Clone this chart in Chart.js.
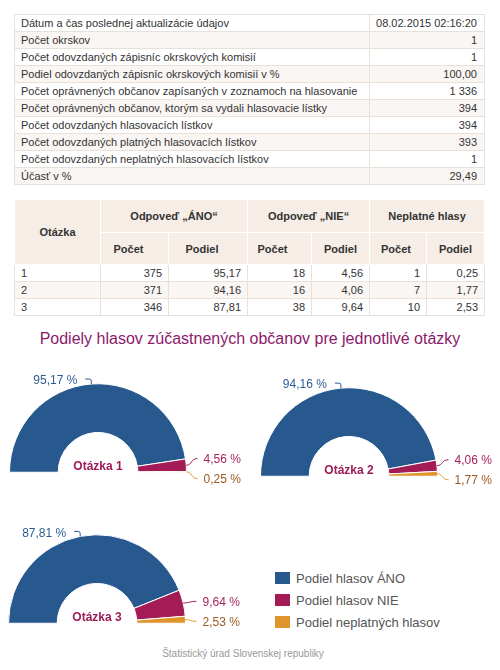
<!DOCTYPE html>
<html>
<head>
<meta charset="utf-8">
<script src="https://cdn.jsdelivr.net/npm/chart.js@4"></script>
<style>
  body { margin: 0; background: #fff; font-family: "Liberation Sans", Arial, sans-serif; color: #333; }
  .box { position: absolute; }
  table { border-collapse: collapse; font-size: 11px; table-layout: fixed; }
  #summary td { border: 1px solid #e8e1da; height: 16px; padding: 0 6px; line-height: 15px; }
  #summary td.val { text-align: right; padding-right: 7px; }
  #summary tr:nth-child(even) td { background: #faf6f3; }
  #results th { background: #f5ede6; border: 1px solid #fff; font-weight: bold; padding: 0; }
  #results td { border: 1px solid #e8e1da; height: 16px; padding: 0 6px; line-height: 15px; text-align: right; }
  #results td:first-child { text-align: left; }
  #results tbody tr:nth-child(even) td { background: #faf6f3; }
  #title { position: absolute; left: 0; width: 500px; top: 330px; text-align: center; font-size: 16px; color: #8b1a6b; }
  .legend { position: absolute; left: 275px; font-size: 13px; color: #555; line-height: 14px; }
  .legend span { display: inline-block; width: 15px; height: 12px; vertical-align: -1px; margin-right: 6px; }
  #footer { position: absolute; left: 0; width: 486px; top: 648px; text-align: center; font-size: 10px; color: #999; }
</style>
</head>
<body>
<table id="summary" class="box" style="left:14px; top:14px; width:470px;">
  <colgroup><col style="width:355px"><col style="width:115px"></colgroup>
  <tbody></tbody>
</table>

<table id="results" class="box" style="left:14px; top:199px; width:470px;">
  <colgroup>
    <col style="width:86px"><col style="width:68px"><col style="width:79px">
    <col style="width:64px"><col style="width:58px"><col style="width:57px"><col style="width:58px">
  </colgroup>
  <thead>
    <tr style="height:33px"><th rowspan="2">Otázka</th><th colspan="2">Odpoveď „ÁNO“</th><th colspan="2">Odpoveď „NIE“</th><th colspan="2">Neplatné hlasy</th></tr>
    <tr style="height:32px"><th style="padding-right:12px">Počet</th><th style="padding-right:12px">Podiel</th><th style="padding-right:14px">Počet</th><th>Podiel</th><th style="padding-right:4px">Počet</th><th>Podiel</th></tr>
  </thead>
  <tbody></tbody>
</table>

<div id="title">Podiely hlasov zúčastnených občanov pre jednotlivé otázky</div>

<div class="box" style="left:0; top:370px; width:250px; height:125px;"><canvas id="q1"></canvas></div>
<div class="box" style="left:250px; top:370px; width:250px; height:125px;"><canvas id="q2"></canvas></div>
<div class="box" style="left:0; top:515px; width:250px; height:125px;"><canvas id="q3"></canvas></div>

<div class="legend" style="top:572px"><span style="background:#27598f"></span>Podiel hlasov ÁNO</div>
<div class="legend" style="top:594px"><span style="background:#a41c55"></span>Podiel hlasov NIE</div>
<div class="legend" style="top:616px"><span style="background:#e0952c"></span>Podiel neplatných hlasov</div>

<div id="footer">Štatistický úrad Slovenskej republiky</div>

<script>
// summary table
const summaryLabels = [
  'Dátum a čas poslednej aktualizácie údajov',
  'Počet okrskov',
  'Počet odovzdaných zápisníc okrskových komisií',
  'Podiel odovzdaných zápisníc okrskových komisií v %',
  'Počet oprávnených občanov zapísaných v zoznamoch na hlasovanie',
  'Počet oprávnených občanov, ktorým sa vydali hlasovacie lístky',
  'Počet odovzdaných hlasovacích lístkov',
  'Počet odovzdaných platných hlasovacích lístkov',
  'Počet odovzdaných neplatných hlasovacích lístkov',
  'Účasť v %'
];
const summaryValues = ['08.02.2015 02:16:20', '1', '1', '100,00', '1 336', '394', '394', '393', '1', '29,49'];

// results per question
const otazky = ['Otázka 1', 'Otázka 2', 'Otázka 3'];
const pocetAno = [375, 371, 346];
const podielAno = [95.17, 94.16, 87.81];
const pocetNie = [18, 16, 38];
const podielNie = [4.56, 4.06, 9.64];
const pocetNeplatne = [1, 7, 10];
const podielNeplatne = [0.25, 1.77, 2.53];

const seriesNames = ['Podiel hlasov ÁNO', 'Podiel hlasov NIE', 'Podiel neplatných hlasov'];
const sliceColors = ['#27598f', '#a41c55', '#e0952c'];
const labelColors = ['#2d5d94', '#a8245f', '#9c5a20'];

const fmt = v => v.toFixed(2).replace('.', ',');

const sBody = document.querySelector('#summary tbody');
summaryLabels.forEach((lbl, i) => {
  const tr = document.createElement('tr');
  tr.innerHTML = '<td>' + lbl + '</td><td class="val">' + summaryValues[i] + '</td>';
  sBody.appendChild(tr);
});

const rBody = document.querySelector('#results tbody');
otazky.forEach((q, i) => {
  const tr = document.createElement('tr');
  tr.innerHTML = '<td>' + (i + 1) + '</td><td>' + pocetAno[i] + '</td><td>' + fmt(podielAno[i]) +
    '</td><td>' + pocetNie[i] + '</td><td>' + fmt(podielNie[i]) +
    '</td><td>' + pocetNeplatne[i] + '</td><td>' + fmt(podielNeplatne[i]) + '</td>';
  rBody.appendChild(tr);
});

// labels outside the slices + title in the hole
const pieLabels = {
  id: 'pieLabels',
  afterDatasetsDraw(chart) {
    const ctx = chart.ctx;
    const meta = chart.getDatasetMeta(0);
    const values = chart.data.datasets[0].data;
    const right = [];
    let cx = 0, cy = 0, R = 0;
    ctx.save();
    ctx.font = '12px "Liberation Sans", Arial, sans-serif';
    meta.data.forEach((arc, i) => {
      const p = arc.getProps(['x', 'y', 'startAngle', 'endAngle', 'outerRadius']);
      cx = p.x; cy = p.y; R = p.outerRadius;
      const mid = (p.startAngle + p.endAngle) / 2;
      const px = p.x + Math.cos(mid) * R;
      const py = p.y + Math.sin(mid) * R;
      const text = fmt(values[i]) + ' %';
      if (Math.cos(mid) < 0) {
        ctx.strokeStyle = sliceColors[i];
        ctx.lineWidth = 1;
        ctx.beginPath();
        ctx.moveTo(px, py);
        ctx.lineTo(px, py - 3);
        ctx.quadraticCurveTo(px, py - 5, px - 2, py - 5);
        ctx.lineTo(px - 6, py - 5);
        ctx.stroke();
        ctx.fillStyle = labelColors[i];
        ctx.textAlign = 'right';
        ctx.textBaseline = 'middle';
        ctx.fillText(text, px - 14, py - 3);
      } else {
        right.push({ i, px, py, ly: py, text });
      }
    });
    // spread right-hand labels
    right.sort((a, b) => a.py - b.py);
    const gap = 20;
    for (let k = 1; k < right.length; k++) {
      if (right[k].ly - right[k - 1].ly < gap) {
        const avg = (right[k].ly + right[k - 1].ly) / 2;
        right[k - 1].ly = avg - gap / 2;
        right[k].ly = avg + gap / 2;
      }
    }
    right.forEach(l => {
      const tx = cx + R + 17;
      ctx.strokeStyle = sliceColors[l.i];
      ctx.lineWidth = 1;
      ctx.beginPath();
      ctx.moveTo(l.px, l.py);
      ctx.bezierCurveTo(l.px + 6, l.py, tx - 13, l.ly, tx - 6, l.ly);
      ctx.stroke();
      ctx.fillStyle = labelColors[l.i];
      ctx.textAlign = 'left';
      ctx.textBaseline = 'middle';
      ctx.fillText(l.text, tx, l.ly + 1);
    });
    ctx.font = 'bold 12px "Liberation Sans", Arial, sans-serif';
    ctx.fillStyle = '#9b1b57';
    ctx.textAlign = 'center';
    ctx.textBaseline = 'middle';
    ctx.fillText(chart.options.plugins.centerTitle, cx, cy - 6);
    ctx.restore();
  }
};

const paddings = [
  { left: 9, right: 63, top: 13, bottom: 22 },
  { left: 10, right: 62, top: 17, bottom: 18 },
  { left: 8, right: 64, top: 19, bottom: 16 }
];

otazky.forEach((q, i) => {
  new Chart(document.getElementById('q' + (i + 1)), {
    type: 'doughnut',
    data: {
      labels: seriesNames,
      datasets: [{
        data: [podielAno[i], podielNie[i], podielNeplatne[i]],
        backgroundColor: sliceColors,
        borderColor: '#ffffff',
        borderWidth: 1
      }]
    },
    options: {
      responsive: true,
      maintainAspectRatio: false,
      animation: false,
      rotation: -90,
      circumference: 180,
      cutout: '45%',
      layout: { padding: paddings[i] },
      plugins: {
        legend: { display: false },
        tooltip: { enabled: false },
        centerTitle: q
      }
    },
    plugins: [pieLabels]
  });
});
</script>
</body>
</html>
